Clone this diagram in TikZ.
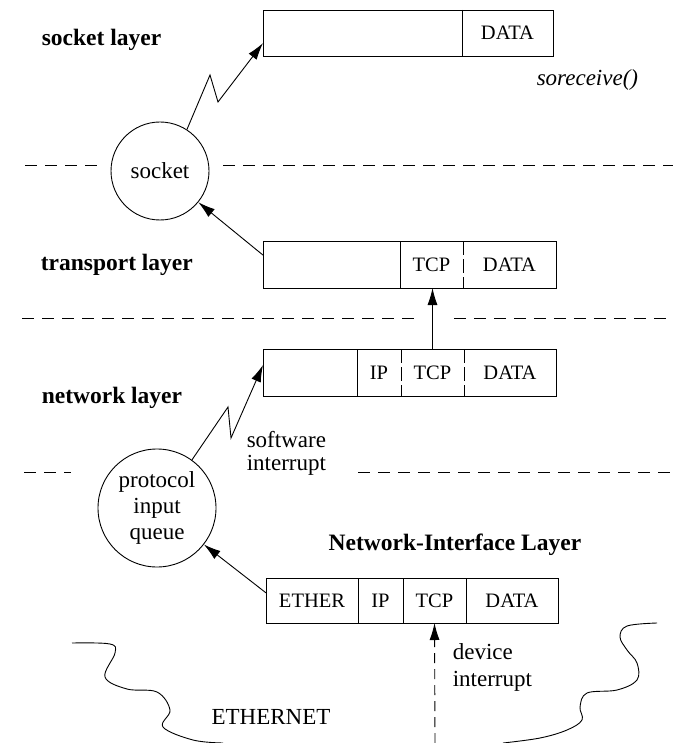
\documentclass[tikz,border=0pt]{standalone}
\usepackage{fontspec}
\setmainfont{Liberation Serif}
\usetikzlibrary{arrows.meta,calc,shapes.geometric}
\begin{document}
\begin{tikzpicture}[x=1pt,y=-1pt, line width=0.9pt,
 every node/.style={font=\fontsize{23}{26}\selectfont},
 cell/.style={rectangle, inner sep=0pt, outer sep=0pt, anchor=west, font=\fontsize{20.5}{24}\selectfont},
 divd/.style={dash pattern=on 14pt off 4pt},
 layerline/.style={dash pattern=on 12pt off 8pt},
 arr/.style={-{Latex[length=17pt,width=10pt]}},
 circ/.style={circle, draw, inner sep=0pt, align=center},
 lbl/.style={font=\fontsize{23.5}{26}\selectfont\bfseries, anchor=west},
 plain/.style={anchor=west, align=left},
]
\useasboundingbox (0,0) rectangle (673,743);

% socket layer buffer
\node[cell, minimum width=199pt, minimum height=46pt] (s1) at (263,33) {};
\node[cell, minimum width=91pt, minimum height=46pt] (s2) at (462,33) {DATA};
\draw (s1.north west) rectangle (s2.south east);
\draw (s2.north west) -- (s2.south west);

% transport buffer
\node[cell, minimum width=137pt, minimum height=47pt] (tr1) at (263,264.5) {};
\node[cell, minimum width=63pt, minimum height=47pt] (tr2) at (400,264.5) {TCP};
\node[cell, minimum width=93pt, minimum height=47pt] (tr3) at (463,264.5) {DATA};
\draw (tr1.north west) rectangle (tr3.south east);
\draw (tr2.north west) -- (tr2.south west);
\draw[divd] (tr3.north west) -- (tr3.south west);

% network buffer
\node[cell, minimum width=94pt, minimum height=47pt] (n1) at (263,372.5) {};
\node[cell, minimum width=44pt, minimum height=47pt] (n2) at (357,372.5) {IP};
\node[cell, minimum width=63pt, minimum height=47pt] (n3) at (401,372.5) {TCP};
\node[cell, minimum width=92pt, minimum height=47pt] (n4) at (464,372.5) {DATA};
\draw (n1.north west) rectangle (n4.south east);
\draw (n2.north west) -- (n2.south west);
\draw[divd] (n3.north west) -- (n3.south west);
\draw[divd] (n4.north west) -- (n4.south west);

% ethernet buffer
\node[cell, minimum width=92pt, minimum height=45pt] (e1) at (266,600.5) {ETHER};
\node[cell, minimum width=45pt, minimum height=45pt] (e2) at (358,600.5) {IP};
\node[cell, minimum width=63pt, minimum height=45pt] (e3) at (403,600.5) {TCP};
\node[cell, minimum width=92pt, minimum height=45pt] (e4) at (466,600.5) {DATA};
\draw (e1.north west) rectangle (e4.south east);
\draw (e2.north west) -- (e2.south west);
\draw (e3.north west) -- (e3.south west);
\draw (e4.north west) -- (e4.south west);

% circles
\node[circ, minimum size=98pt] (sock) at (160,171) {socket};
\node[circ, minimum size=118pt] (pq) at (157,508) {protocol\\input\\queue};

% labels
\node[lbl] (Lsock) at (38,40) {socket layer};
\node[lbl] (Ltr) at (37,265) {transport layer};
\node[lbl] (Lnet) at (38,398) {network layer};
\node[font=\fontsize{23.5}{26}\selectfont\bfseries] (Lnif) at (455,545) {Network-Interface Layer};
\node[plain, font=\fontsize{23}{26}\selectfont\itshape] (sorecv) at (533,80) {soreceive()};
\node[plain, font=\fontsize{23}{23}\selectfont] (swi) at (243,453) {software\\interrupt};
\node[plain, font=\fontsize{23}{27}\selectfont] (devi) at (449,667) {device\\interrupt};
\node (ethn) at (271,717) {ETHERNET};

% layer separators
\draw[layerline] (25,165) -- (100,165);
\draw[layerline] (223,165) -- (673,165);
\draw[layerline] (22,318) -- (417,318);
\draw[layerline] (454,318) -- (673,318);
\draw[layerline] (24,472) -- (71,472);
\draw[layerline] (358,472) -- (673,472);

% connectors
\coordinate (z1a) at (210,75);
\coordinate (z1b) at (218,102);
\coordinate (tip1) at ($(s1.south west)!0.28!(s1.north west)$);
\draw[arr] (sock.57) -- (z1a) -- (z1b) -- (tip1);

\coordinate (trs) at ($(tr1.north west)!0.3!(tr1.south west)$);
\draw[arr] (trs) -- (sock);

\draw[arr] (n3.north) -- (n3.north |- tr2.south);

\coordinate (z2a) at (228,407);
\coordinate (z2b) at (231,438);
\coordinate (tip2) at ($(n1.north west)!0.34!(n1.south west)$);
\draw[arr] (pq.54) -- (z2a) -- (z2b) -- (tip2);

\coordinate (ets) at ($(e1.north west)!0.33!(e1.south west)$);
\draw[arr] (ets) -- (pq);

\coordinate (devsrc) at (435,743);
\draw[arr, dash pattern=on 10pt off 6pt] (devsrc) -- (e3.south);

% ethernet cable
\draw plot[smooth, tension=0.6] coordinates {(72,643) (110,644) (115,653) (105,677) (127,689) (157,692) (170,710) (163,727) (193,740) (223,743)};
\draw plot[smooth, tension=0.6] coordinates {(657,623) (627,626) (620,637) (627,650) (637,663) (637,680) (617,690) (587,693) (580,707) (582,720) (567,730) (540,738) (503,743)};
\end{tikzpicture}
\end{document}
